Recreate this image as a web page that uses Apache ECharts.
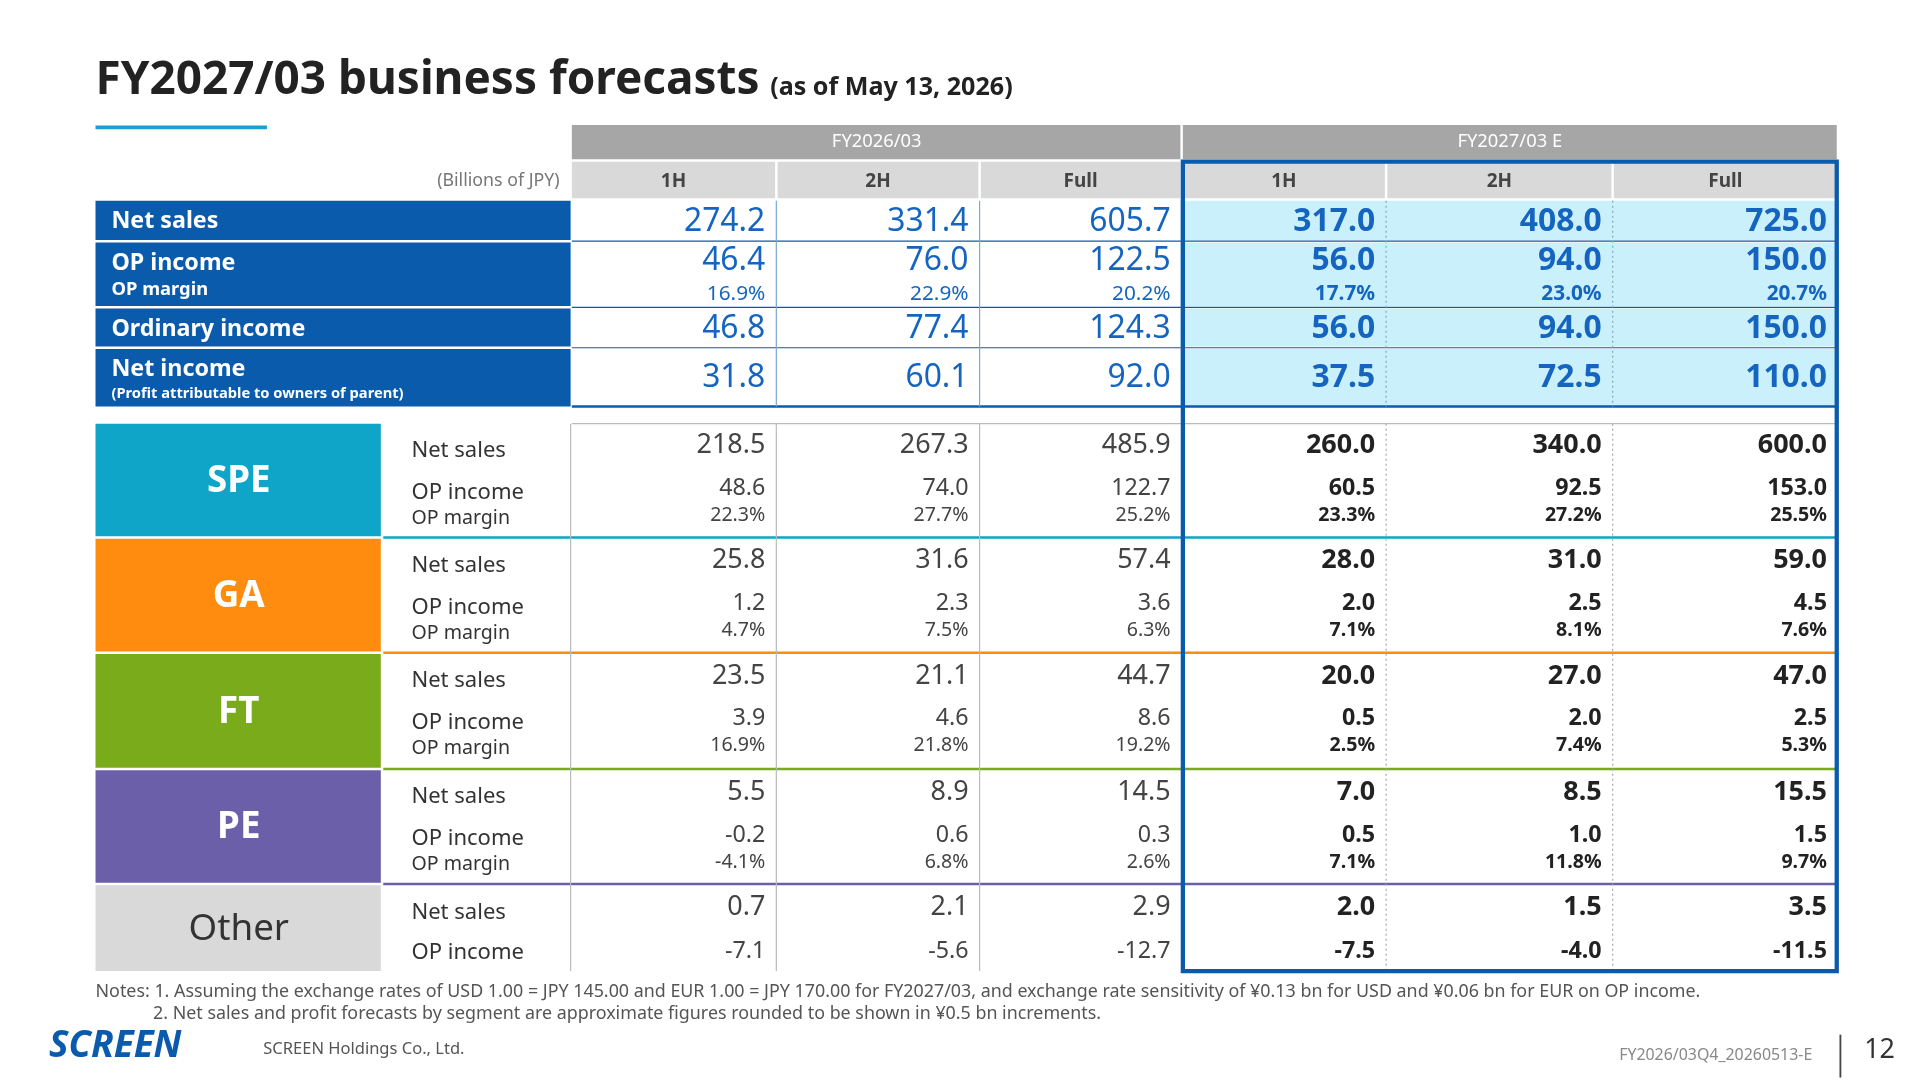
<!DOCTYPE html>
<html><head><meta charset="utf-8">
<script src="https://cdn.jsdelivr.net/npm/echarts@6/dist/echarts.min.js"></script>
<style>html,body{margin:0;padding:0;background:#fff}#c{width:1920px;height:1080px}</style>
</head><body><div id="c"></div>
<script>
// table values
const yearHeads = ['FY2026/03', 'FY2027/03 E'];
const periods = ['1H', '2H', 'Full', '1H', '2H', 'Full'];
const netSales = [274.2, 331.4, 605.7, 317.0, 408.0, 725.0];
const opIncome = [46.4, 76.0, 122.5, 56.0, 94.0, 150.0];
const opMargin = ['16.9%', '22.9%', '20.2%', '17.7%', '23.0%', '20.7%'];
const ordIncome = [46.8, 77.4, 124.3, 56.0, 94.0, 150.0];
const netIncome = [31.8, 60.1, 92.0, 37.5, 72.5, 110.0];
const segments = ['SPE', 'GA', 'FT', 'PE', 'Other'];
const segNetSales = [
  [218.5, 267.3, 485.9, 260.0, 340.0, 600.0],
  [25.8, 31.6, 57.4, 28.0, 31.0, 59.0],
  [23.5, 21.1, 44.7, 20.0, 27.0, 47.0],
  [5.5, 8.9, 14.5, 7.0, 8.5, 15.5],
  [0.7, 2.1, 2.9, 2.0, 1.5, 3.5]
];
const segOpIncome = [
  [48.6, 74.0, 122.7, 60.5, 92.5, 153.0],
  [1.2, 2.3, 3.6, 2.0, 2.5, 4.5],
  [3.9, 4.6, 8.6, 0.5, 2.0, 2.5],
  [-0.2, 0.6, 0.3, 0.5, 1.0, 1.5],
  [-7.1, -5.6, -12.7, -7.5, -4.0, -11.5]
];
const segOpMargin = [
  ['22.3%', '27.7%', '25.2%', '23.3%', '27.2%', '25.5%'],
  ['4.7%', '7.5%', '6.3%', '7.1%', '8.1%', '7.6%'],
  ['16.9%', '21.8%', '19.2%', '2.5%', '7.4%', '5.3%'],
  ['-4.1%', '6.8%', '2.6%', '7.1%', '11.8%', '9.7%'],
  null
];

// layout (reference units, 1568 x 882)
const S = 1920 / 1568;
const colL = [467, 635, 801, 966, 1133, 1318];
const colR = [633, 799, 964, 1131, 1316, 1500];
const topRowY = [[164, 196], [198, 250], [252, 283], [285, 332]];
const segY = [[346, 438], [440, 532], [534, 627], [629, 721], [723, 793]];
const segColors = ['#0ea5c9', '#ff8c0f', '#7aab1a', '#6a5fa8', '#d9d9d9'];
const BLUE = '#0a5bab', NUM = '#1565c0', FONT = '"Noto Sans", Lato, sans-serif';

const els = [];
const rect = (x0, y0, x1, y1, fill, stroke, lw, dash) => els.push({t: 'r', x0, y0, x1, y1, fill, stroke, lw, dash});
const line = (x0, y0, x1, y1, stroke, lw, dash) => els.push({t: 'l', x0, y0, x1, y1, stroke, lw, dash});
const text = (x, y, s, size, color, align, weight, italic) => els.push({t: 't', x, y, s: String(s), size, color, align: align || 'left', weight: weight || 'normal', italic});
const f1 = v => v.toFixed(1);

// headers
rect(467, 102, 964, 130, '#a6a6a6');
rect(966, 102, 1500, 130, '#a6a6a6');
text(716, 116, yearHeads[0], 15, '#fff', 'center');
text(1233, 116, yearHeads[1], 15, '#fff', 'center');
for (let i = 0; i < 6; i++) {
  rect(colL[i], 132, colR[i], 162, '#d9d9d9');
  text((colL[i] + colR[i]) / 2, 148, periods[i], 15.5, '#444', 'center', 'bold');
}
text(457, 148, '(Billions of JPY)', 14.5, '#777', 'right');

// top block
const topLabels = ['Net sales', 'OP income', 'Ordinary income', 'Net income'];
const topVals = [netSales, opIncome, ordIncome, netIncome];
topRowY.forEach((r, k) => {
  rect(78, r[0], 466, r[1], BLUE);
  for (let i = 3; i < 6; i++) rect(colL[i] - 2, r[0], colR[i] + 2, r[1], '#c9f0fb');
  const yc = k === 1 ? 213 : (k === 3 ? 309 : (r[0] + r[1]) / 2 + 1);
  topVals[k].forEach((v, i) => text(colR[i] - 8, yc, f1(v), 26, NUM, 'right', i > 2 ? 'bold' : 'normal'));
  if (k < 3) line(467, r[1] + 1, 1500, r[1] + 1, BLUE, 1);
});
text(91, 181, topLabels[0], 19, '#fff', 'left', 'bold');
text(91, 215, topLabels[1], 19, '#fff', 'left', 'bold');
text(91, 237, 'OP margin', 15, '#fff', 'left', 'bold');
text(91, 269, topLabels[2], 19, '#fff', 'left', 'bold');
text(91, 302, topLabels[3], 19, '#fff', 'left', 'bold');
text(91, 322, '(Profit attributable to owners of parent)', 12, '#fff', 'left', 'bold');
opMargin.forEach((v, i) => text(colR[i] - 8, 240, v, 17, NUM, 'right', i > 2 ? 'bold' : 'normal'));
line(467, 332, 1500, 332, BLUE, 2);
[633, 799, 966].forEach(x => line(x + 1, 164, x + 1, 332, '#7fa7d6', 1));
[1132, 1317].forEach(x => line(x, 164, x, 332, '#8ab', 1, [2, 3]));

// segments
line(467, 346, 1500, 346, '#bbb', 1);
segments.forEach((name, s) => {
  const [y0, y1] = segY[s];
  rect(78, y0, 311, y1, segColors[s]);
  text(195, (y0 + y1) / 2 + 1, name, 30, s === 4 ? '#333' : '#fff', 'center', s === 4 ? 'normal' : 'bold');
  const other = s === 4;
  text(336, y0 + 22, 'Net sales', 18, '#333');
  text(336, y0 + (other ? 55 : 56), 'OP income', 18, '#333');
  if (!other) text(336, y0 + 77, 'OP margin', 16, '#333');
  for (let i = 0; i < 6; i++) {
    const b = i > 2 ? 'bold' : 'normal', c = i > 2 ? '#222' : '#444';
    text(colR[i] - 8, y0 + 18, f1(segNetSales[s][i]), 22, c, 'right', b);
    text(colR[i] - 8, y0 + (other ? 54 : 53), f1(segOpIncome[s][i]), 19, c, 'right', b);
    if (!other) text(colR[i] - 8, y0 + 75, segOpMargin[s][i], 16, c, 'right', b);
  }
  if (!other) line(313, y1 + 1, 1500, y1 + 1, segColors[s], 2);
});
line(466, 346, 466, 793, '#bbb', 1);
[634, 800].forEach(x => line(x, 346, x, 793, '#bbb', 1));
[1132, 1317].forEach(x => line(x, 346, x, 793, '#aaa', 1, [2, 3]));

// forecast frame
rect(966, 132, 1500, 793, null, BLUE, 3.5);

// title + footer
text(78, 66, 'FY2027/03 business forecasts', 37.5, '#222', 'left', 'bold');
text(629, 72, '(as of May 13, 2026)', 20.5, '#222', 'left', 'bold');
line(78, 104, 218, 104, '#1a9fd0', 3);
text(78, 810, 'Notes: 1. Assuming the exchange rates of USD 1.00 = JPY 145.00 and EUR 1.00 = JPY 170.00 for FY2027/03, and exchange rate sensitivity of ¥0.13 bn for USD and ¥0.06 bn for EUR on OP income.', 14.6, '#555');
text(125, 828, '2. Net sales and profit forecasts by segment are approximate figures rounded to be shown in ¥0.5 bn increments.', 14.6, '#555');
text(40, 855, 'SCREEN', 30, BLUE, 'left', 'bold', true);
text(215, 857, 'SCREEN Holdings Co., Ltd.', 13.5, '#555');
text(1480, 862, 'FY2026/03Q4_20260513-E', 13, '#888', 'right');
line(1503, 845, 1503, 880, '#444', 1.5);
text(1535, 858, '12', 22, '#333', 'center');

const chart = echarts.init(document.getElementById('c'));
chart.setOption({
  animation: false,
  grid: {left: 0, right: 0, top: 0, bottom: 0},
  xAxis: {type: 'value', min: 0, max: 1568, show: false},
  yAxis: {type: 'value', min: 0, max: 882, inverse: true, show: false},
  series: [{
    type: 'custom',
    coordinateSystem: 'cartesian2d',
    data: els.map((e, i) => [i, 0]),
    renderItem: function (params, api) {
      const e = els[params.dataIndex];
      if (e.t === 'r') {
        const a = api.coord([e.x0, e.y0]), b = api.coord([e.x1, e.y1]);
        return {type: 'rect', shape: {x: a[0], y: a[1], width: b[0] - a[0], height: b[1] - a[1]},
          style: {fill: e.fill || 'none', stroke: e.stroke || null, lineWidth: (e.lw || 0) * S}};
      }
      if (e.t === 'l') {
        const a = api.coord([e.x0, e.y0]), b = api.coord([e.x1, e.y1]);
        return {type: 'line', shape: {x1: a[0], y1: a[1], x2: b[0], y2: b[1]},
          style: {stroke: e.stroke, lineWidth: e.lw * S, lineDash: e.dash || null}};
      }
      const p = api.coord([e.x, e.y]);
      return {type: 'text', x: p[0], y: p[1], style: {text: e.s, fill: e.color, align: e.align,
        verticalAlign: 'middle', font: (e.italic ? 'italic ' : '') + e.weight + ' ' + (e.size * S) + 'px ' + FONT}};
    }
  }]
});
</script></body></html>
